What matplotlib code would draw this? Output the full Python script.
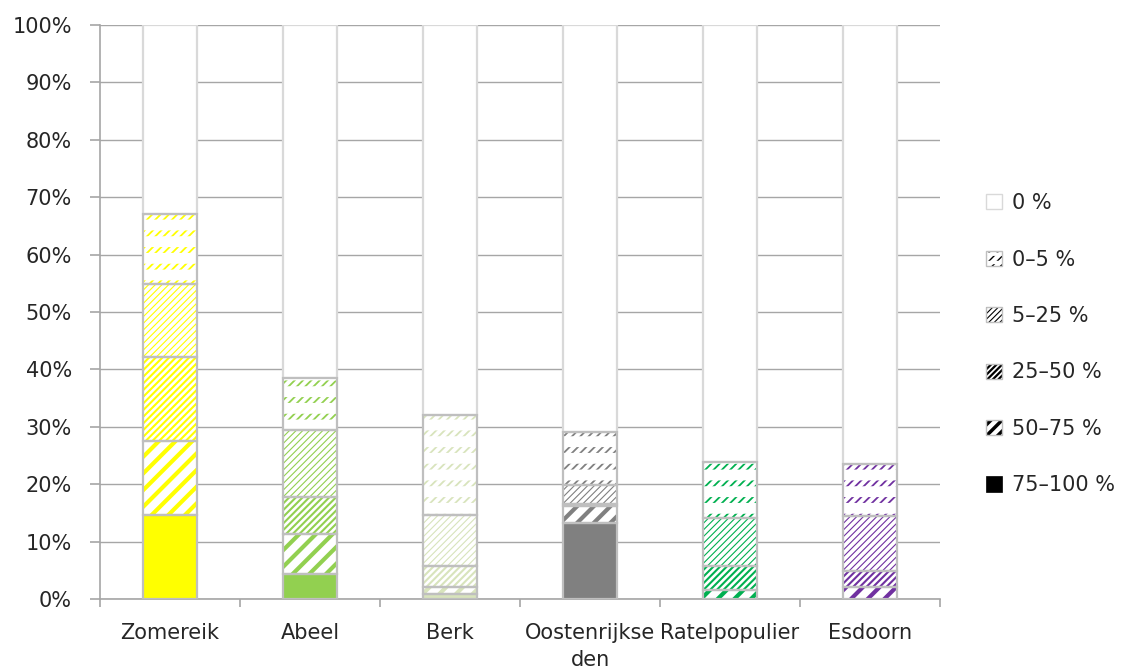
import matplotlib
matplotlib.use('Agg')
import matplotlib.pyplot as plt
from matplotlib.patches import Patch, Rectangle

# Data (percent of trees per defoliation class)
species = ['Zomereik', 'Abeel', 'Berk', 'Oostenrijkse\nden', 'Ratelpopulier', 'Esdoorn']
c_75_100 = [14.6, 4.4, 0.8, 13.2, 0.0, 0.0]
c_50_75 = [12.9, 6.9, 1.3, 3.0, 1.6, 2.1]
c_25_50 = [14.7, 6.5, 3.7, 0.4, 4.2, 2.7]
c_5_25 = [12.7, 11.6, 8.8, 3.3, 8.3, 9.7]
c_0_5 = [12.2, 9.1, 17.4, 9.2, 9.8, 9.1]
colors = ['#FFFF00', '#92D050', '#D8E4BC', '#808080', '#00B050', '#7030A0']
legend_labels = ['0 %', '0–5 %', '5–25 %', '25–50 %', '50–75 %', '75–100 %']

series = [c_75_100, c_50_75, c_25_50, c_5_25, c_0_5]
hatches = [None, '//', '/////', '/////', '////']
hatch_lw = [1.0, 3.0, 1.5, 0.8, 1.3]


def set_hlw(patch, lw):
    try:
        patch.set_hatch_linewidth(lw)
    except AttributeError:
        pass


class HandlerOverlay:
    # draw all patches of a tuple on top of each other in one legend box
    def legend_artist(self, legend, orig_handle, fontsize, handlebox):
        x0, y0 = -handlebox.xdescent, -handlebox.ydescent
        w, h = handlebox.width, handlebox.height
        r = None
        for p in orig_handle:
            r = Rectangle((x0, y0), w, h, facecolor=p.get_facecolor(),
                          edgecolor=p.get_edgecolor(), hatch=p.get_hatch(),
                          linewidth=p.get_linewidth(), fill=p.get_fill(),
                          transform=handlebox.get_transform())
            try:
                set_hlw(r, p.get_hatch_linewidth())
            except AttributeError:
                pass
            handlebox.add_artist(r)
        return r


plt.rcParams['font.family'] = ['DejaVu Sans']
fig = plt.figure(figsize=(11.34, 6.71), dpi=100)
ax = fig.add_axes([100 / 1134, 72 / 671, 840 / 1134, 574 / 671])

x = list(range(len(species)))
width = 0.386
edge = '#BFBFBF'

bottom = [0.0] * len(species)
for k, (vals, h, hlw) in enumerate(zip(series, hatches, hatch_lw)):
    for i in x:
        if vals[i] <= 0:
            continue
        if h is None:
            ax.bar(i, vals[i], width, bottom=bottom[i], color=colors[i],
                   linewidth=0, zorder=2)
        else:
            bars = ax.bar(i, vals[i], width, bottom=bottom[i], facecolor='white',
                          edgecolor=colors[i], hatch=h, linewidth=0, zorder=2)
            for b in bars:
                set_hlw(b, hlw)
            if k == 4:
                # break the diagonals into dashed rows
                wb = ax.bar(i, vals[i], width, bottom=bottom[i], fill=False,
                            edgecolor='white', hatch='-', linewidth=0, zorder=2.5)
                for b in wb:
                    set_hlw(b, 7.8)
        ax.bar(i, vals[i], width, bottom=bottom[i], fill=False,
               edgecolor=edge, linewidth=1.6, zorder=3)
    bottom = [b + v for b, v in zip(bottom, vals)]

# remaining "0 %" part up to 100
rest = [100 - b for b in bottom]
ax.bar(x, rest, width, bottom=bottom, facecolor='white', edgecolor='#D9D9D9',
       linewidth=1.6, zorder=2)

ax.set_xlim(-0.5, len(species) - 0.5)
ax.set_ylim(0, 100)
ax.set_yticks(range(0, 101, 10))
ax.set_yticklabels([f'{v}%' for v in range(0, 101, 10)])
ax.yaxis.grid(True, color='#A6A6A6', linewidth=1.0, zorder=0)
ax.set_axisbelow(True)

ax.set_xticks(x)
ax.set_xticklabels(species, linespacing=1.45)
ax.set_xticks([i - 0.5 for i in range(len(species) + 1)], minor=True)
ax.tick_params(axis='x', which='major', length=0, pad=17, labelsize=15)
ax.tick_params(axis='x', which='minor', length=6, color='#A6A6A6', width=1.2)
ax.tick_params(axis='y', length=7.2, color='#A6A6A6', width=1.2, labelsize=15, pad=13)
for lbl in ax.get_xticklabels() + ax.get_yticklabels():
    lbl.set_color('#262626')

for s in ['top', 'right']:
    ax.spines[s].set_visible(False)
for s in ['left', 'bottom']:
    ax.spines[s].set_color('#A6A6A6')
    ax.spines[s].set_linewidth(1.2)

# Legend (black patterns)
handles = [(Patch(facecolor='white', edgecolor='#D9D9D9', linewidth=1.0),)]
base = Patch(facecolor='white', edgecolor='black', hatch='////', linewidth=0)
set_hlw(base, 1.0)
brk = Patch(fill=False, edgecolor='white', hatch='--', linewidth=0)
set_hlw(brk, 2.5)
frame = Patch(fill=False, edgecolor=edge, linewidth=1.0)
handles.append((base, brk, frame))
for h, hlw in [('//////', 0.8), ('//////', 1.6), ('///', 2.5)]:
    p = Patch(facecolor='white', edgecolor='black', hatch=h, linewidth=0)
    set_hlw(p, hlw)
    handles.append((p, Patch(fill=False, edgecolor=edge, linewidth=1.0)))
handles.append((Patch(facecolor='black', edgecolor='black', linewidth=0.5),))
fig.legend(handles=handles, labels=legend_labels, loc='center left',
           bbox_to_anchor=(0.853, 0.487), frameon=False, fontsize=15,
           handlelength=0.75, handleheight=0.75, labelspacing=1.75,
           handletextpad=0.5, labelcolor='#262626',
           handler_map={tuple: HandlerOverlay()})

fig.savefig('out.png', dpi=100)
